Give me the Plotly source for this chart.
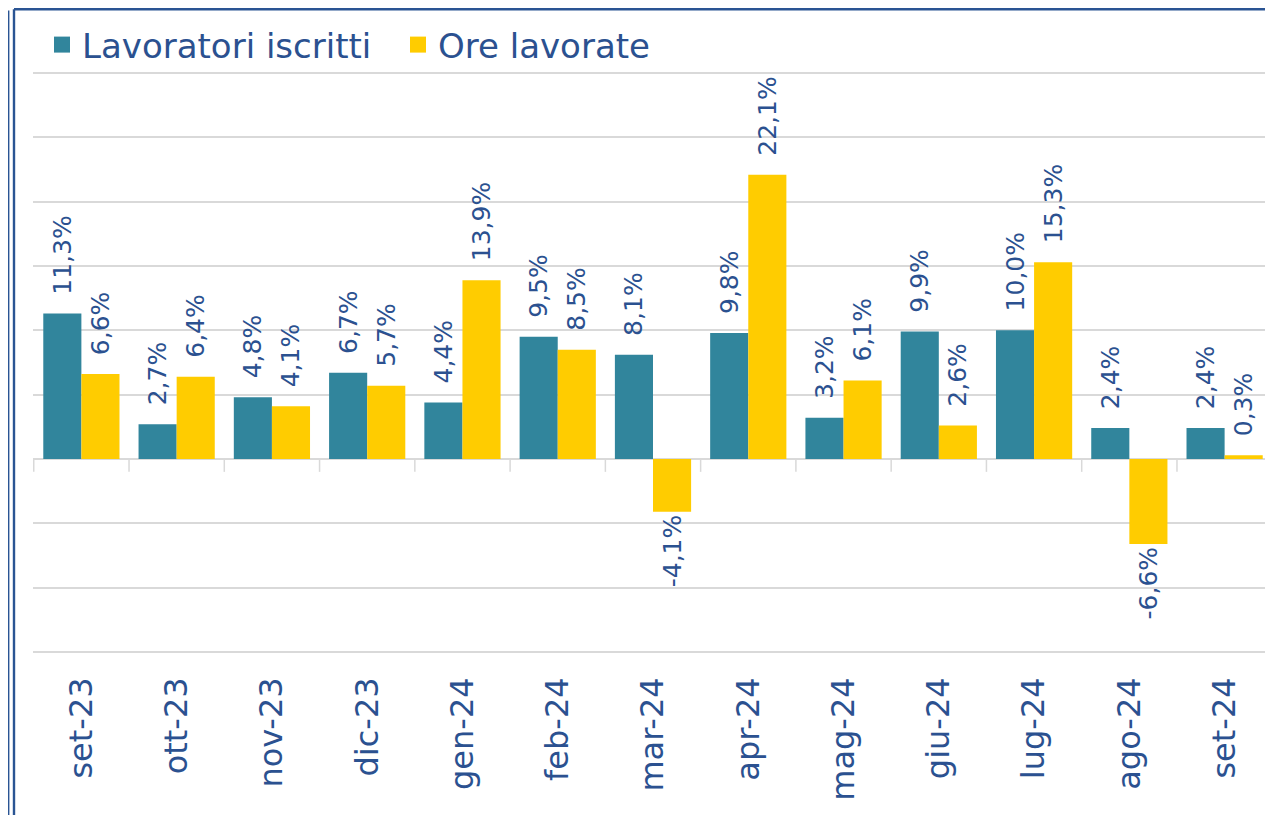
import plotly.graph_objects as go

categories = ["set-23", "ott-23", "nov-23", "dic-23", "gen-24", "feb-24", "mar-24",
              "apr-24", "mag-24", "giu-24", "lug-24", "ago-24", "set-24"]
lavoratori = [11.3, 2.7, 4.8, 6.7, 4.4, 9.5, 8.1, 9.8, 3.2, 9.9, 10.0, 2.4, 2.4]
ore = [6.6, 6.4, 4.1, 5.7, 13.9, 8.5, -4.1, 22.1, 6.1, 2.6, 15.3, -6.6, 0.3]
y_min, y_max, y_step = -15, 30, 5

TEAL = "#31859C"
YELLOW = "#FFCC00"
TXT = "#2B5190"
FRAME_COL = "#2A5493"
FONT = "DejaVu Sans"

# the page places the figure 8px from the top-left corner of the window
OFF = 8
WIDTH, HEIGHT = 1273 - OFF, 815 - OFF
# pixel rows (page) of the top and bottom gridlines, and of the plot edges
GRID_TOP, GRID_BOT = 73, 652
PLOT_TOP, PLOT_BOT = 66, 659
per_px = (y_max - y_min) / (GRID_BOT - GRID_TOP)
r_top = y_max + (GRID_TOP - PLOT_TOP) * per_px
r_bot = y_min - (PLOT_BOT - GRID_BOT) * per_px

L, T = 33 - OFF, PLOT_TOP - OFF
B = HEIGHT - (PLOT_BOT - OFF)
R = 0

def label_fmt(vals):
    # positive labels sit a little further from the bar end
    return ["\u00a0\u00a0%{y:.1f}%" if v >= 0 else "%{y:.1f}%" for v in vals]

fig = go.Figure()
for name, vals, col in [("Lavoratori iscritti", lavoratori, TEAL), ("Ore lavorate", ore, YELLOW)]:
    fig.add_trace(go.Bar(
        x=categories, y=vals, name=name, marker=dict(color=col, line=dict(width=0)),
        texttemplate=label_fmt(vals), textposition="outside", textangle=-90,
        textfont=dict(family=FONT, size=25, color=TXT), constraintext="none",
        cliponaxis=False, showlegend=False,
    ))
    fig.add_trace(go.Scatter(
        x=[None], y=[None], mode="markers", name=name,
        marker=dict(symbol="square", size=16, color=col), showlegend=True,
    ))

# tick marks at category boundaries on the zero line
for i in range(len(categories) + 1):
    fig.add_shape(type="line", xref="x", yref="y", x0=i - 0.5, x1=i - 0.5, y0=0, y1=-1.0,
                  line=dict(color="#D9D9D9", width=1.5), layer="below")

W, H = WIDTH - L - R, HEIGHT - T - B
def px(x):
    return (x - L) / W
def py(y):
    return (HEIGHT - B - y) / H

# frame (figure pixel coordinates)
fig.add_shape(type="line", xref="paper", yref="paper", x0=px(0.6), x1=px(0.6), y0=py(2.5), y1=py(HEIGHT),
              line=dict(color=FRAME_COL, width=1.6))
fig.add_shape(type="line", xref="paper", yref="paper", x0=px(6), x1=px(6), y0=py(1.3), y1=py(HEIGHT),
              line=dict(color=FRAME_COL, width=2.4))
fig.add_shape(type="line", xref="paper", yref="paper", x0=px(6), x1=px(WIDTH), y0=py(1.3), y1=py(1.3),
              line=dict(color=FRAME_COL, width=2.4))

fig.update_layout(
    width=WIDTH, height=HEIGHT,
    margin=dict(l=L, r=R, t=T, b=B, autoexpand=False),
    paper_bgcolor="white", plot_bgcolor="white",
    separators=",.",
    barmode="group", bargap=0.2, bargroupgap=0,
    font=dict(family=FONT, color=TXT),
    legend=dict(orientation="h", xref="container", yref="container",
                x=34 / WIDTH, y=1 - 37 / HEIGHT, xanchor="left", yanchor="middle",
                font=dict(family=FONT, size=34, color=TXT), itemwidth=30,
                entrywidth=311, bgcolor="rgba(0,0,0,0)"),
    xaxis=dict(tickangle=-90, tickfont=dict(family=FONT, size=32, color=TXT),
               showgrid=False, showline=False, ticks="", ticklabelstandoff=11,
               automargin=False),
    yaxis=dict(range=[r_bot, r_top], dtick=y_step, tick0=0, showticklabels=False, showgrid=True,
               gridcolor="#D9D9D9", gridwidth=1.5, zeroline=True, zerolinecolor="#D9D9D9",
               zerolinewidth=1.5, showline=False, automargin=False),
)

fig.write_html("out.html")
